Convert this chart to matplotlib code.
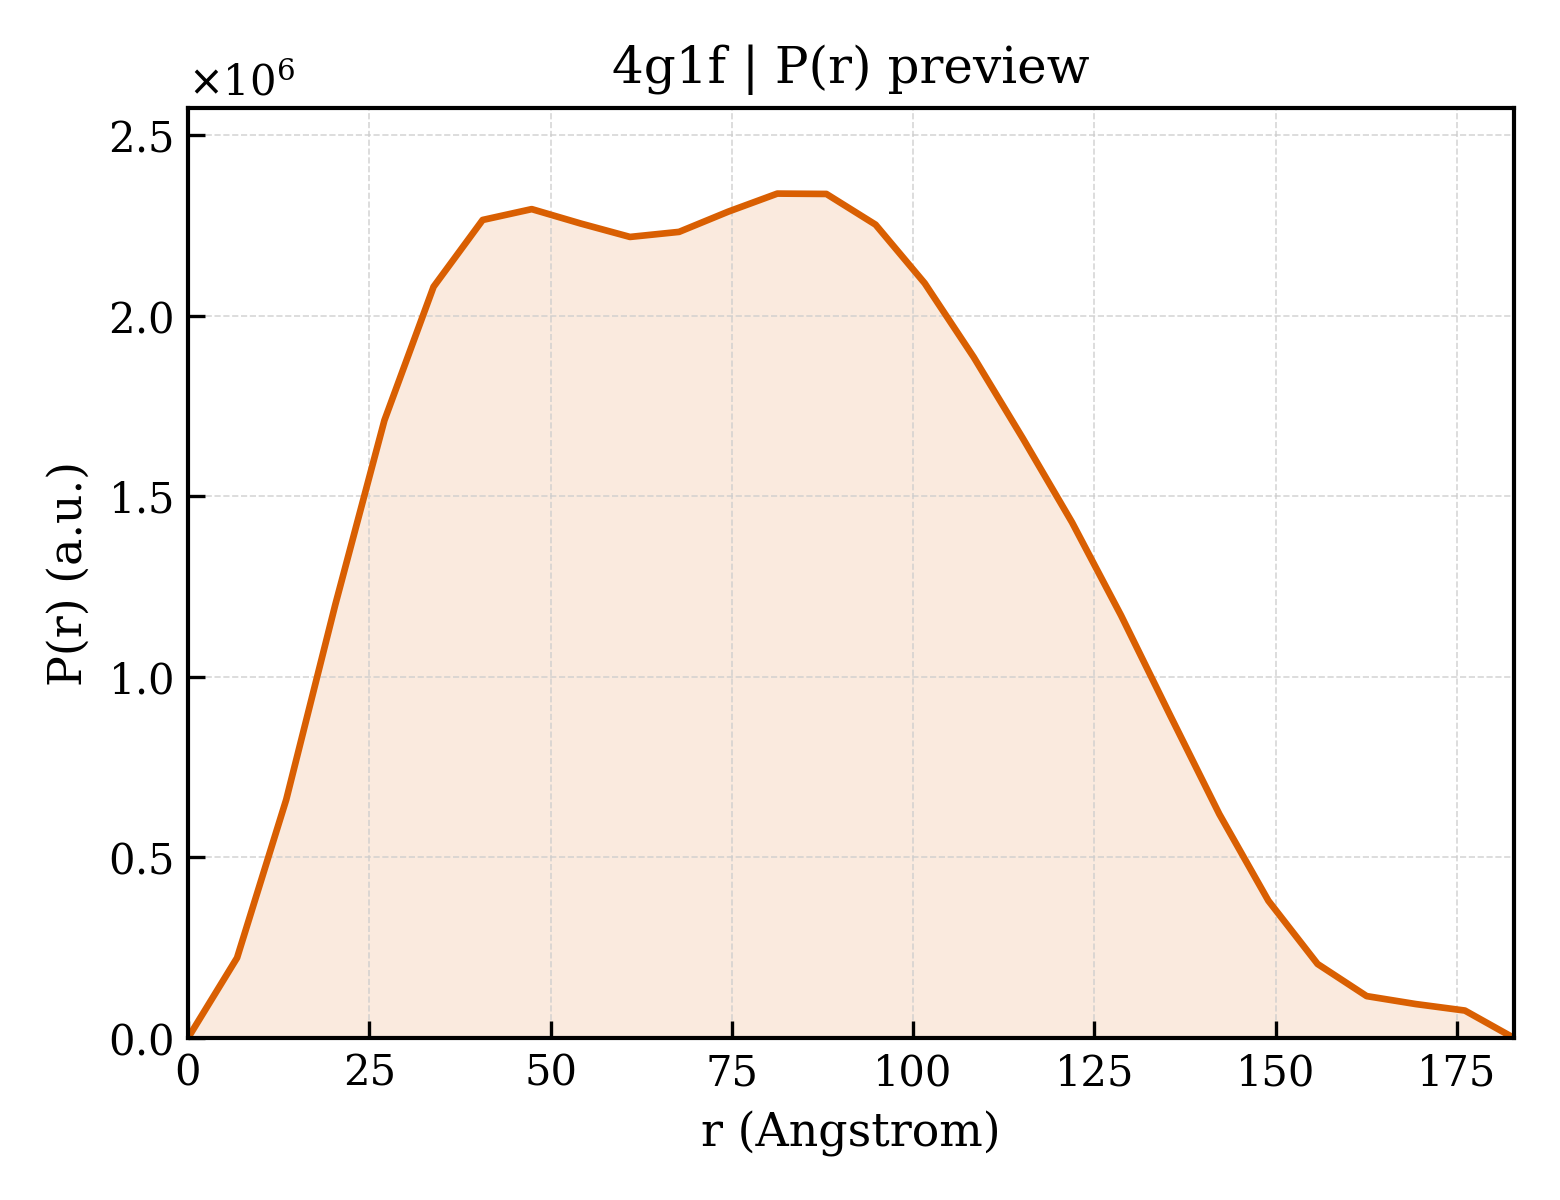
import matplotlib
matplotlib.use("Agg")
import matplotlib.pyplot as plt
import numpy as np

r = [0.0, 6.77, 13.55, 20.32, 27.09, 33.87, 40.64, 47.41, 54.19, 60.96,
     67.73, 74.51, 81.28, 88.05, 94.83, 101.60, 108.37, 115.15, 121.92,
     128.69, 135.47, 142.24, 149.01, 155.79, 162.56, 169.33, 176.11, 182.88]
pr = [0.0, 0.222, 0.66, 1.20, 1.71, 2.08, 2.265, 2.295, 2.255, 2.218,
      2.232, 2.288, 2.338, 2.337, 2.252, 2.090, 1.885, 1.660, 1.428,
      1.170, 0.893, 0.620, 0.380, 0.205, 0.116, 0.094, 0.076, 0.0]
pr = [v * 1e6 for v in pr]

plt.rcParams['font.family'] = ['DejaVu Serif']
fig = plt.figure(figsize=(5.2, 4.0), dpi=300)
ax = fig.add_axes([0.1205, 0.135, 0.85, 0.775])
color = '#d95f02'
ax.fill_between(r, pr, 0, color=color, alpha=0.13, linewidth=0)
ax.plot(r, pr, color=color, lw=1.6)
ax.set_xlim(0, max(r))
ax.set_ylim(0, 2.575e6)
ax.set_xticks([0, 25, 50, 75, 100, 125, 150, 175])
ax.set_yticks([0, 0.5e6, 1.0e6, 1.5e6, 2.0e6, 2.5e6])
ax.ticklabel_format(axis='y', style='sci', scilimits=(0, 0), useMathText=True)
ax.yaxis.get_offset_text().set_fontsize(10)
ax.tick_params(direction='in', labelsize=10, length=4, width=0.8)
ax.grid(True, ls='--', lw=0.4, color='#cccccc', alpha=0.8)
ax.set_xlabel('r (Angstrom)', fontsize=11)
ax.set_ylabel('P(r) (a.u.)', fontsize=11)
ax.set_title('4g1f | P(r) preview', fontsize=12)
for s in ax.spines.values():
    s.set_linewidth(1.0)
fig.savefig('out.png', dpi=300)
